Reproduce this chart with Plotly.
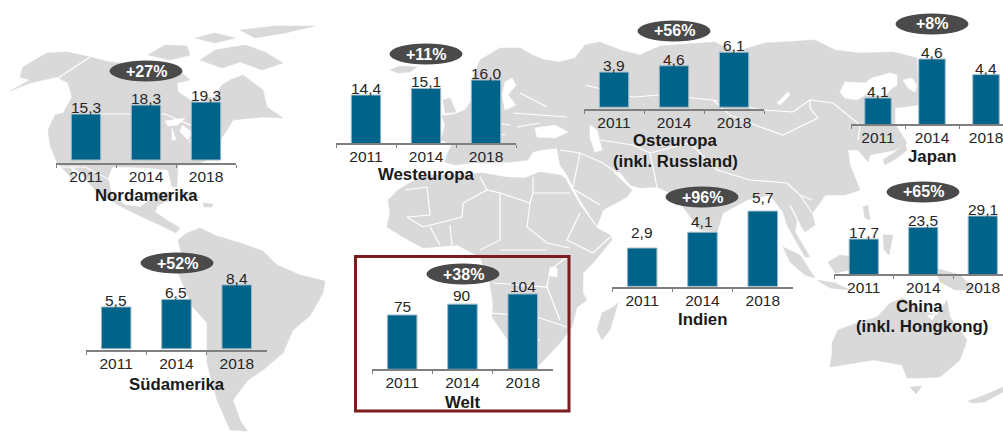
import plotly.graph_objects as go

W, H = 1003, 433
# ---------- data ----------
years = ["2011", "2014", "2018"]
nordamerika = [15.3, 18.3, 19.3]
westeuropa = [14.4, 15.1, 16.0]
osteuropa = [3.9, 4.6, 6.1]
japan = [4.1, 4.6, 4.4]
china = [17.7, 23.5, 29.1]
indien = [2.9, 4.1, 5.7]
suedamerika = [5.5, 6.5, 8.4]
welt = [75, 90, 104]
growth_labels = ["+27%", "+11%", "+56%", "+8%", "+65%", "+96%", "+52%", "+38%"]
region_labels = [["Nordamerika"], ["Westeuropa"], ["Osteuropa", "(inkl. Russland)"], ["Japan"],
                 ["China", "(inkl. Hongkong)"], ["Indien"], ["Südamerika"], ["Welt"]]

# ---------- panel layout (pixels): axis left, slot, baseline, axis floor, px per unit, label gaps,
# pill centre, region label centres, decimals
panels = [
    (nordamerika, 56, 60, 163, -1.0, 3.0, [1, 1, 1], (146, 71), [(146, 195)], 1),
    (westeuropa, 336, 60, 143, 9.3, 9.4, [1, 1, 1], (426, 54), [(426, 175)], 1),
    (osteuropa, 584, 60, 109, -0.2, 9.0, [1, 1, 1], (674, 31), [(675, 141), (675, 161)], 1),
    (japan, 851, 54, 124, 3.767, 78.0, [1, 1, 1], (932, 24), [(932, 156)], 1),
    (china, 834, 59.5, 274, 0.4, 2.02, [1, 1, 1], (923, 192), [(919, 306), (922, 326)], 1),
    (indien, 612, 60.3, 287, -0.05, 13.2, [10, 5, 8], (702, 197), [(702, 319)], 1),
    (suedamerika, 86, 60.3, 350, -0.16, 7.6, [1, 1, 1], (177, 263), [(177, 384)], 1),
    (welt, 372, 60.3, 369, 0.4, 0.724, [3, 3, 2], (463, 274), [(463, 402)], 0),
]

# ---------- decorative background map outline (pixel space) ----------
land = [
    # North America
    [(10,91),(30,80),(20,77),(23,67),(47,53),(67,52),(90,57),(110,62),(150,66),(182,73),(190,80),(177,83),(178,92),(190,100),(205,105),(207,97),(213,98),(222,85),(230,80),(243,75),(263,90),(267,107),(283,118),(263,117),(233,120),(227,130),(213,150),(207,160),(195,165),(178,165),(177,187),(172,187),(168,170),(150,168),(130,167),(112,167),(108,178),(112,195),(125,205),(140,207),(150,200),(155,193),(170,192),(170,200),(158,205),(155,212),(170,222),(180,228),(176,233),(160,225),(140,216),(118,205),(95,190),(80,172),(70,165),(75,182),(66,172),(57,163),(50,145),(48,130),(55,115),(63,113),(72,97),(68,83),(57,77),(30,83)],
    # Arctic islands
    [(240,30),(275,26),(315,26),(285,33),(255,38)],
    [(200,60),(215,50),(245,45),(265,52),(283,63),(262,70),(240,62),(222,68)],
    [(148,55),(165,45),(187,46),(190,55),(170,60)],
    [(195,38),(215,33),(235,38),(215,43)],
    # Caribbean
    [(180,192),(190,192),(200,198),(190,197)],
    [(203,203),(213,204),(212,207),(204,207)],
    # South America
    [(178,240),(187,233),(200,228),(217,236),(240,243),(263,251),(277,265),(300,275),(325,281),(323,293),(310,316),(293,330),(283,353),(263,370),(248,380),(233,400),(240,420),(247,431),(230,430),(217,400),(207,363),(207,323),(192,306),(177,270),(182,256)],
    # Africa
    [(388,200),(398,190),(415,180),(428,175),(455,175),(483,173),(505,177),(525,178),(540,172),(560,175),(565,178),(580,205),(597,228),(610,235),(612,240),(593,263),(583,273),(583,293),(587,300),(577,307),(572,327),(560,343),(547,357),(537,367),(517,371),(508,340),(492,317),(493,303),(490,283),(480,257),(457,245),(423,248),(403,237),(387,227),(390,213)],
    # Madagascar
    [(618,303),(610,330),(602,340),(597,330),(602,313),(613,307)],
    # Iceland, Britain
    [(390,70),(400,66),(417,67),(410,72),(398,73)],
    [(443,100),(450,98),(456,112),(445,113)],
    # Eurasia
    [(448,152),(452,145),(441,140),(445,125),(442,116),(455,114),(465,110),(472,100),(472,80),(480,60),(500,48),(520,48),(532,55),(545,60),(560,62),(575,58),(585,45),(600,42),(620,50),(640,55),(660,46),(690,44),(715,42),(735,52),(765,43),(815,40),(835,50),(860,53),(893,52),(917,58),(918,105),(895,108),(895,124),(907,143),(895,150),(870,155),(868,162),(858,150),(848,150),(850,165),(860,190),(845,195),(825,195),(820,203),(812,213),(815,225),(805,232),(797,220),(795,232),(810,257),(805,257),(787,225),(783,212),(770,195),(747,200),(723,213),(717,232),(700,230),(683,207),(670,193),(657,187),(640,188),(630,185),(620,172),(613,172),(632,190),(627,197),(603,210),(597,226),(580,200),(567,175),(560,165),(557,148),(540,150),(533,152),(528,160),(512,162),(490,163),(470,163),(455,165),(445,162)],
    # Japan
    [(883,160),(895,152),(905,143),(907,150),(897,158),(885,165)],
    # SE Asia islands
    [(783,247),(800,255),(815,278),(805,275),(790,262)],
    [(817,280),(835,283),(850,290),(830,288)],
    [(828,262),(840,255),(855,257),(850,270),(835,273)],
    [(863,207),(868,205),(870,220),(865,218)],
    [(883,235),(893,235),(889,255),(884,250)],
    [(935,268),(960,275),(975,290),(955,290),(940,282)],
    # Australia
    [(832,343),(838,330),(860,322),(877,317),(890,303),(903,298),(925,312),(937,315),(947,300),(950,317),(967,340),(960,360),(940,377),(923,378),(907,378),(902,365),(873,360),(830,367),(832,353)],
    [(910,387),(922,386),(916,394)],
    [(968,401),(985,395),(1003,387),(1003,392),(985,402),(972,403)],
]
water = [
    [(840,92),(845,82),(865,83),(872,78),(890,73),(897,75),(897,85),(890,90),(885,96),(865,95),(857,100),(845,98)],
    [(903,80),(912,78),(917,85),(915,92),(908,88)],
    [(535,128),(555,125),(568,132),(555,138),(537,137)],
    [(590,125),(597,130),(602,150),(595,152),(590,138)],
    [(505,82),(512,78),(516,85),(508,95),(516,105),(505,110),(502,95)],
    [(777,103),(788,92),(790,95),(780,105)],
    [(165,121),(185,118),(178,125),(168,126)],
    [(172,128),(176,140),(172,140)],
    [(182,125),(192,132),(188,140),(180,132)],
    [(188,142),(200,135),(198,139)],
    [(927,315),(935,315),(932,320)],
    [(550,267),(557,268),(557,277),(550,276)],
]
borders = [
    [(90,57),(55,80)], [(72,114),(165,114),(190,125),(213,120)], [(60,167),(85,167),(110,180)],
    [(427,187),(430,215),(407,217)], [(427,187),(405,190)], [(463,203),(487,190),(500,193),(500,220)],
    [(480,177),(487,190)], [(500,193),(530,203),(533,193),(570,193)], [(533,193),(533,177)],
    [(530,203),(527,227),(547,243),(570,248)], [(500,220),(500,240),(480,250)], [(463,203),(462,217),(423,227)],
    [(500,250),(547,250)], [(490,313),(537,317),(567,327)], [(493,283),(547,287),(550,270),(567,257)],
    [(580,213),(567,240),(593,253),(610,237)], [(513,333),(540,340)], [(537,317),(537,340)],
    [(407,217),(423,227)], [(430,227),(440,245)], [(450,225),(452,245)], [(547,287),(560,320)],
    [(520,93),(547,107)], [(513,113),(567,117)], [(517,127),(540,123)], [(480,120),(510,125)], [(470,130),(505,135)],
    [(560,150),(580,153),(603,163),(617,173)], [(580,153),(573,187)], [(650,153),(657,187)],
    [(650,153),(690,143),(717,170),(750,180),(787,183)], [(600,140),(633,145),(650,153)], [(575,190),(600,205)],
    [(633,97),(660,95),(713,100),(763,110),(793,112),(810,100),(833,103),(850,117),(860,125)],
    [(585,85),(633,97)], [(810,100),(810,108),(818,118),(800,127),(783,135),(760,127),(730,115),(713,100)],
    [(787,183),(800,195),(812,200)], [(790,205),(800,225)], [(800,195),(812,213)], [(860,125),(858,140)],
]

fig = go.Figure()

def path(polys):
    xs, ys = [], []
    for poly in polys:
        closed = poly + [poly[0]]
        xs += [p[0] for p in closed] + [None]
        ys += [p[1] for p in closed] + [None]
    return xs, ys

def lines(polys):
    xs, ys = [], []
    for poly in polys:
        xs += [p[0] for p in poly] + [None]
        ys += [p[1] for p in poly] + [None]
    return xs, ys

for polys, col in ((land, "#D9D9D9"), (water, "#FFFFFF")):
    for poly in polys:
        xs, ys = path([poly])
        fig.add_trace(go.Scatter(x=xs, y=ys, mode="lines", fill="toself", fillcolor=col,
                                 line=dict(color=col, width=0.5), hoverinfo="skip", showlegend=False))
xs, ys = lines(borders)
fig.add_trace(go.Scatter(x=xs, y=ys, mode="lines", line=dict(color="#FFFFFF", width=1.2),
                         hoverinfo="skip", showlegend=False))

layout = dict(
    width=W, height=H, margin=dict(l=0, r=0, t=0, b=0), showlegend=False,
    paper_bgcolor="white", plot_bgcolor="rgba(0,0,0,0)",
    xaxis=dict(domain=[0, 1], range=[0, W], visible=False, fixedrange=True),
    yaxis=dict(domain=[0, 1], range=[H, 0], visible=False, fixedrange=True),
)

FONT = "Liberation Sans"
def px(x): return x / W
def py(y): return 1 - y / H

annotations, shapes = [], []
for i, (vals, left, slot, base, floor_, scale, gaps, pill, label_pos, dec) in enumerate(panels):
    n = i + 2
    xn, yn = f"x{n}", f"y{n}"
    right = min(left + 3 * slot, W)
    span = (max(vals) - floor_) * scale + 2
    fig.add_trace(go.Bar(x=years, y=vals, xaxis=xn, yaxis=yn, width=0.49,
                         marker=dict(color="#00638A", line=dict(color="#9DB9C6", width=1)),
                         hoverinfo="skip", showlegend=False))
    layout[f"xaxis{n}"] = dict(
        domain=[px(left), px(right)], anchor=yn, type="category", tickson="boundaries",
        range=[-0.5, -0.5 + (right - left) / slot], showgrid=False, zeroline=False,
        showline=True, linecolor="#7F7F7F", linewidth=2, ticks="outside", ticklen=3, tickwidth=1,
        ticklabelstandoff=-2,
        tickcolor="#7F7F7F", tickfont=dict(family=FONT, size=15.5, color="#262626"), fixedrange=True)
    layout[f"yaxis{n}"] = dict(
        domain=[py(base), py(base - span)], anchor=xn, range=[floor_, floor_ + span / scale],
        visible=False, fixedrange=True)
    for k, (v, g) in enumerate(zip(vals, gaps)):
        txt = f"{v:.{dec}f}".replace(".", ",")
        annotations.append(dict(x=k, y=v, xref=xn, yref=yn, text=txt, showarrow=False, xanchor="center",
                                yanchor="bottom", yshift=g - 5,
                                font=dict(family=FONT, size=15.5, color="#262626")))
    cx, cy = pill
    shapes.append(dict(type="circle", xref="paper", yref="paper", x0=px(cx - 36.5), x1=px(cx + 36.5),
                       y0=py(cy + 10.5), y1=py(cy - 10.5), fillcolor="#4A4A4A", line=dict(width=0)))
    annotations.append(dict(x=px(cx), y=py(cy), xref="paper", yref="paper", text=f"<b>{growth_labels[i]}</b>",
                            showarrow=False, xanchor="center", yanchor="middle",
                            font=dict(family=FONT, size=16, color="white")))
    for line_text, (lx, ly) in zip(region_labels[i], label_pos):
        annotations.append(dict(x=px(lx), y=py(ly), xref="paper", yref="paper", text=f"<b>{line_text}</b>",
                                showarrow=False, xanchor="center", yanchor="middle",
                                font=dict(family=FONT, size=16.8, color="#1A1A1A")))

shapes.append(dict(type="rect", xref="paper", yref="paper", x0=px(355.5), x1=px(569), y0=py(411), y1=py(256.5),
                   line=dict(color="#7B1C1F", width=3)))
layout["annotations"] = annotations
layout["shapes"] = shapes
fig.update_layout(**layout)
fig.write_html("out.html", config={"displayModeBar": False},
               post_script="document.body.style.margin='0';document.body.style.overflow='hidden';")
